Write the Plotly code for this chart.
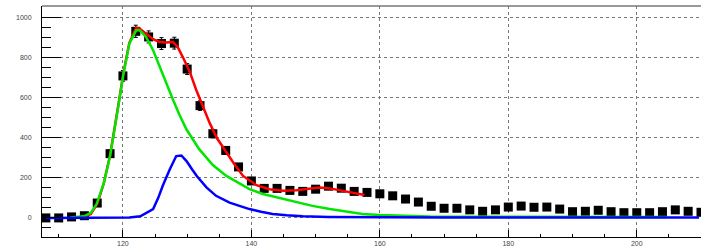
import numpy as np
import plotly.graph_objects as go

# ---- data points (histogram, bin centers every 2) ----
data_x = [108, 110, 112, 114, 116, 118, 120, 122, 124, 126, 128, 130, 132, 134, 136, 138,
          140, 142, 144, 146, 148, 150, 152, 154, 156, 158, 160, 162, 164, 166, 168, 170,
          172, 174, 176, 178, 180, 182, 184, 186, 188, 190, 192, 194, 196, 198, 200, 202,
          204, 206, 208, 210]
data_y = [0, 0, 5, 11, 74, 320, 707, 929, 901, 868, 870, 741, 559, 419, 336, 254,
          184, 147, 147, 137, 132, 143, 158, 148, 132, 127, 120, 110, 94, 79, 58, 48,
          48, 40, 33, 40, 54, 59, 53, 54, 44, 31, 33, 38, 31, 26, 26, 26,
          31, 40, 33, 28]
data_err = [float(np.sqrt(max(v, 0))) for v in data_y]

# ---- total fit (red) ----
red_x = [112.0, 113.0, 114.0, 115.0, 116.0, 117.0, 118.0, 119.2, 120.1, 121.0, 122.07, 122.6,
         123.6, 124.7, 125.7, 126.7, 127.8, 128.5, 129.3, 130.4, 131.4, 132.5, 133.5, 134.6,
         136.1, 137.3, 138.7, 140.8, 142.8, 144.9, 147.0, 149.1, 150.6, 152.2, 154.3, 156.3,
         157.6]
red_y = [0, 2, 6, 20, 69, 170, 312, 545, 725, 872, 947, 942,
         918, 890, 876, 873, 876, 852, 802, 728, 638, 547, 473, 399,
         325, 270, 209, 163, 143, 135, 138, 147, 152, 147, 135, 122,
         114]

# ---- component 1 (green) ----
green_x = [111.8, 113.0, 113.9, 115.0, 115.9, 117.0, 118.0, 119.2, 120.1, 121.0, 122.07, 122.6,
           123.6, 124.7, 125.7, 126.7, 127.8, 128.8, 129.9, 131.9, 134.0, 136.1, 137.5,
           139.7, 141.8, 144.5, 147.0, 149.5, 152.2, 154.8, 157.3, 160.0, 163.0, 167.8, 175.0,
           185.0, 195.0, 204.6]
green_y = [2, 4, 8, 25, 69, 170, 308, 539, 720, 868, 934, 934,
           901, 835, 753, 671, 588, 514, 440, 341, 263, 209, 182,
           143, 119, 97, 78, 60, 44, 30, 20, 14, 10, 7, 6,
           5, 5, 5]

# ---- component 2 (blue) ----
blue_x = [108.0, 115.0, 121.0, 122.7, 123.7, 124.7, 125.5, 126.2, 127.3, 128.3, 129.1, 129.9,
          130.7, 131.5, 133.0, 134.5, 136.6, 138.2, 139.7, 141.5, 143.3, 145.5, 148.0, 152.0,
          160.0, 170.0, 185.0, 200.0, 209.7]
blue_y = [0, 0, 2, 8, 25, 44, 100, 160, 242, 308, 311, 283,
          245, 209, 152, 110, 76, 58, 44, 31, 20, 13, 8, 5,
          3, 2, 2, 2, 2]

x_range = [107.4, 210.0]
y_range = [-95, 1055]
x_ticks = [120, 140, 160, 180, 200]
y_ticks = [0, 200, 400, 600, 800, 1000]

fig = go.Figure()
fig.add_trace(go.Scatter(
    x=data_x, y=data_y, mode="markers",
    marker=dict(symbol="square", size=9, color="black"),
    error_y=dict(type="data", array=data_err, color="black", thickness=1, width=2),
    showlegend=False, cliponaxis=True,
))
fig.add_trace(go.Scatter(x=red_x, y=red_y, mode="lines",
                         line=dict(color="#ff0000", width=2.5), showlegend=False))
fig.add_trace(go.Scatter(x=green_x, y=green_y, mode="lines",
                         line=dict(color="#00e600", width=2.5), showlegend=False))
fig.add_trace(go.Scatter(x=blue_x, y=blue_y, mode="lines",
                         line=dict(color="#0000ff", width=2.5), showlegend=False))

axis_font = dict(family="Liberation Sans, Arial, sans-serif", size=7, color="#444")

fig.update_xaxes(
    range=x_range, tickvals=x_ticks, ticktext=[str(t) for t in x_ticks],
    ticks="inside", ticklen=7, tickcolor="black", tickwidth=1,
    minor=dict(dtick=5, tick0=0, ticks="inside", ticklen=3.5, tickcolor="black", showgrid=False),
    showgrid=True, gridcolor="#777", griddash="dot", gridwidth=1,
    showline=True, linecolor="black", linewidth=1, mirror=False,
    zeroline=False, tickfont=axis_font, ticklabelstandoff=0, automargin=False,
)
fig.update_yaxes(
    range=y_range, tickvals=y_ticks, ticktext=[str(t) for t in y_ticks],
    ticks="inside", ticklen=19, tickcolor="black", tickwidth=1,
    minor=dict(dtick=50, tick0=0, ticks="inside", ticklen=9, tickcolor="black", showgrid=False),
    showgrid=True, gridcolor="#777", griddash="dot", gridwidth=1,
    showline=True, linecolor="black", linewidth=1, mirror=False,
    zeroline=False, tickfont=axis_font, ticklabelstandoff=8, automargin=False,
)

fig.add_shape(type="line", xref="paper", yref="paper", x0=0, x1=1, y0=1, y1=1,
              line=dict(color="#777", width=1.5))

fig.update_layout(
    width=702, height=247,
    margin=dict(l=42, r=1, t=6, b=10),
    plot_bgcolor="white", paper_bgcolor="white",
)

fig.write_html("out.html", config={"displayModeBar": False},
               post_script="document.body.style.margin='0';")
